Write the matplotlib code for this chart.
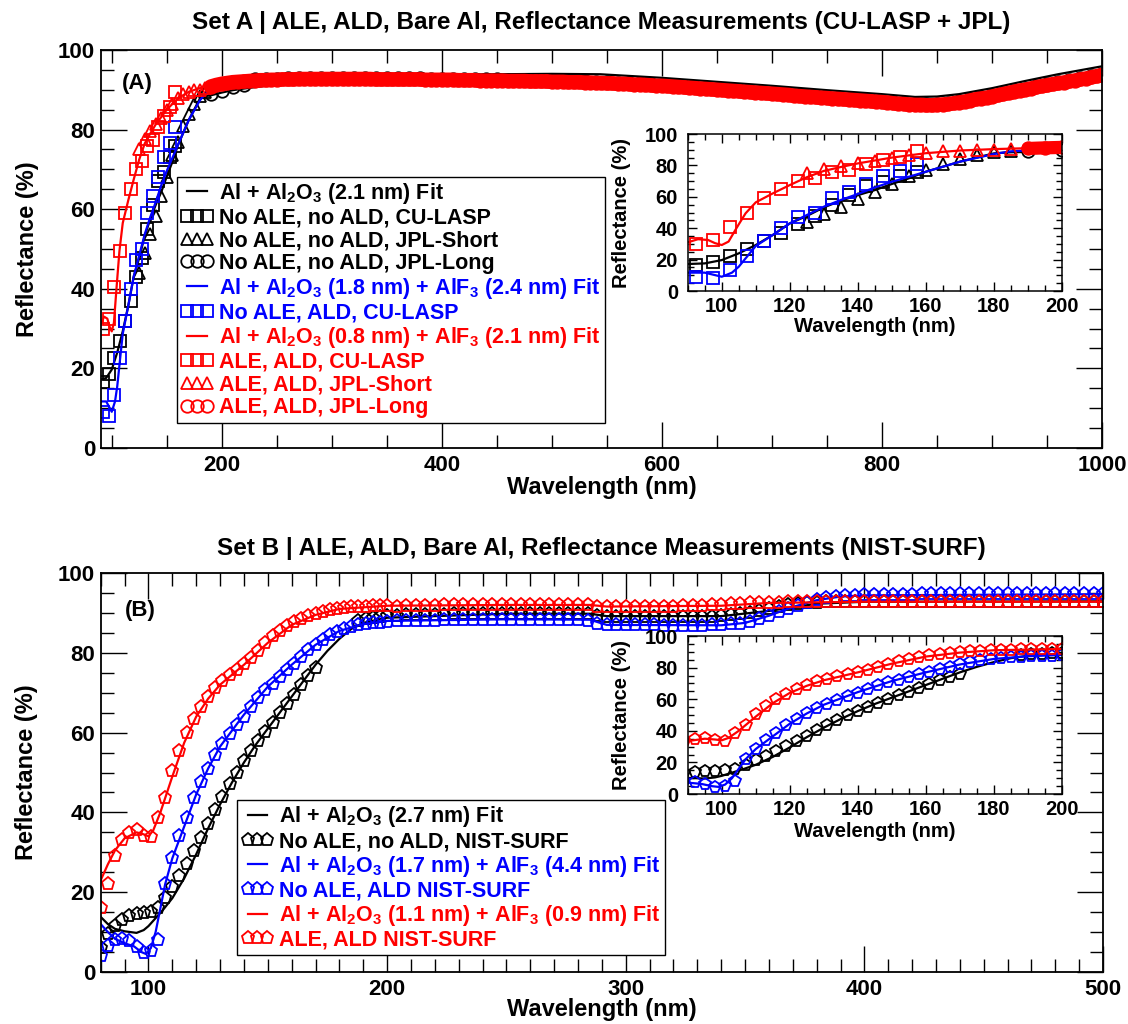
import numpy as np
import matplotlib
matplotlib.use('Agg')
import matplotlib.pyplot as plt
from matplotlib.ticker import MultipleLocator

plt.rcParams['font.family'] = ['Liberation Sans', 'DejaVu Sans']
plt.rcParams['font.weight'] = 'bold'
plt.rcParams['axes.labelweight'] = 'bold'
plt.rcParams['mathtext.fontset'] = 'custom'
plt.rcParams['mathtext.rm'] = 'Liberation Sans:bold'
plt.rcParams['mathtext.bf'] = 'Liberation Sans:bold'
plt.rcParams['mathtext.it'] = 'Liberation Sans:bold'
plt.rcParams['mathtext.sf'] = 'Liberation Sans:bold'
plt.rcParams['mathtext.default'] = 'rm'

nan = np.nan

# ---------------- Set A data ----------------
a_sq_wl = [92.5, 97.5, 102.5, 107.5, 112.5, 117.5, 122.5, 127.5, 132.5, 137.5, 142.5, 147.5, 152.5, 157.5]
a_sq_bare = [16.6, 18.7, 22.5, 27.0, 32.0, 37.0, 43.0, 47.8, 55.0, 61.0, 67.0, 69.4, 73.2, 75.8]
a_sq_ald = [9.1, 8.0, 13.4, 22.5, 31.8, 40.0, 47.3, 50.0, 59.0, 63.3, 68.0, 73.2, 76.6, 80.7]
a_sq_ale = [30.0, 32.5, 40.5, 49.5, 59.0, 65.0, 70.0, 72.0, 75.8, 77.3, 80.7, 83.4, 85.6, 89.4]

a_tri_wl = [125, 130, 135, 140, 145, 150, 155, 160, 165, 170, 175, 180, 185]
a_tri_bare = [44.0, 49.0, 53.7, 58.4, 63.3, 68.0, 73.5, 77.0, 81.0, 84.0, 86.4, 88.5, 89.4]
a_tri_ale = [75.0, 77.7, 79.6, 81.5, 83.0, 85.0, 86.5, 88.0, 89.0, 89.5, 90.0, 90.0, 90.5]

# JPL-Long, ALE+ALD (5 nm steps from 190 nm)
a_long_ale = [90.8, 91.2, 91.5, 91.7, 91.9, 92.0, 92.1, 92.2, 92.3, 92.4, 92.4, 92.5,
              92.5, 92.6, 92.6, 92.6, 92.7, 92.7, 92.7, 92.7, 92.7, 92.7,
              92.7, 92.7, 92.7, 92.7, 92.7, 92.7, 92.7, 92.7, 92.6, 92.6,
              92.6, 92.6, 92.6, 92.6, 92.6, 92.6, 92.6, 92.5, 92.5, 92.5,
              92.5, 92.5, 92.5, 92.4, 92.4, 92.4, 92.4, 92.3, 92.3, 92.3,
              92.3, 92.3, 92.2, 92.2, 92.2, 92.2, 92.1, 92.1, 92.1, 92.1,
              92.0, 92.0, 92.0, 91.9, 91.9, 91.9, 91.8, 91.8, 91.7, 91.7,
              91.6, 91.6, 91.5, 91.5, 91.4, 91.3, 91.3, 91.2, 91.1, 91.0,
              91.0, 90.9, 90.8, 90.7, 90.6, 90.5, 90.4, 90.3, 90.2, 90.1,
              90.0, 89.9, 89.8, 89.7, 89.6, 89.5, 89.4, 89.3, 89.2, 89.1,
              89.0, 88.9, 88.8, 88.7, 88.5, 88.4, 88.3, 88.2, 88.1, 88.0,
              87.9, 87.8, 87.7, 87.6, 87.5, 87.4, 87.3, 87.2, 87.1, 87.0,
              86.9, 86.8, 86.6, 86.5, 86.4, 86.3, 86.2, 86.2, 86.1, 86.1,
              86.2, 86.3, 86.4, 86.6, 86.8, 87.0, 87.3, 87.6, 87.8, 88.0,
              88.3, 88.6, 88.9, 89.2, 89.5, 89.8, 90.0, 90.3, 90.6, 90.9,
              91.1, 91.4, 91.6, 91.8, 92.1, 92.3, 92.6, 92.8, 93.1, 93.4,
              93.7]
# JPL-Long, bare (10 nm steps from 190 nm)
a_long_bare = [89.0, 89.8, 90.6, 91.3, 92.6, 92.7, 92.8, 92.9, 93.0, 93.0,
               93.0, 93.0, 93.0, 93.0, 93.0, 92.9, 92.9, 92.9, 92.9, 92.9,
               92.8, 92.8, 92.8, 92.7, 92.7, 92.6, 92.6, 92.5, 92.5, 92.4,
               92.4, 92.3, 92.3, 92.2, 92.1, 92.0, 91.9, 91.8, 91.7, 91.6,
               91.4, 91.3, 91.1, 90.9, 90.7, 90.5, 90.3, 90.1, 89.9, 89.7,
               89.5, 89.3, 89.1, 88.8, 88.6, 88.4, 88.2, 88.0, 87.8, 87.6,
               87.4, 87.2, 86.9, 86.7, 86.5, 86.4, 86.5, 86.7, 87.1, 87.6,
               88.1, 88.6, 89.2, 89.8, 90.3, 90.9, 91.4, 91.9, 92.4, 92.9,
               93.4, 94.0]
a_long_ale_wl = np.arange(190, 190 + 5 * len(a_long_ale), 5)
a_long_bare_wl = np.arange(190, 190 + 10 * len(a_long_bare), 10)

a_fit_bare_wl = [90, 95, 100, 105, 110, 115, 120, 125, 130, 135, 140, 145, 150, 155, 160, 170, 180, 185, 190, 200,
                 210, 220, 240, 260, 300, 400, 500, 544, 600, 650, 700, 750, 800, 830, 850, 870, 900, 915, 930, 960, 1000]
a_fit_bare = [17.2, 17.6, 19.7, 24.0, 29.3, 35.7, 43.1, 47.8, 53.3, 57.5, 61.1, 64.3, 68.2, 71.8, 76.0, 82.4, 87.7, 88.4, 88.6, 89.3,
              89.9, 90.3, 91.0, 91.6, 92.6, 93.8, 94.0, 93.9, 93.0, 92.0, 91.0, 89.9, 88.9, 88.2, 88.3, 88.9, 90.4, 91.3, 92.2, 93.9, 95.9]
a_fit_ald_wl = [90, 95, 100, 103, 105, 107, 110, 115, 120, 125, 130, 135, 140, 145, 150, 160, 170, 180, 185, 190, 200]
a_fit_ald = [11.7, 11.7, 9.1, 11.7, 15.5, 20.8, 28.7, 35.7, 43.1, 48.4, 53.7, 58.0, 61.8, 66.0, 69.6, 76.0, 82.4, 87.3, 89.0, 89.6, 90.2]
a_fit_ale_wl = [90, 93, 96, 98, 100, 102, 104, 105, 107, 110, 115, 120, 125, 130, 135, 140, 150, 160, 170, 180,
                190, 200, 300, 500, 700, 800, 840, 900, 1000]
a_fit_ale = [31.0, 33.0, 32.5, 30.5, 29.3, 31.5, 38.9, 42.5, 49.5, 56.5, 62.2, 67.5, 72.5, 76.5, 79.0, 81.3, 85.0, 87.8, 89.5, 90.4,
             91.0, 91.5, 92.7, 92.0, 89.0, 86.9, 86.1, 88.3, 93.7]

# ---------------- Set B data ----------------
b_wl_vuv = np.arange(80, 201, 3)
b_wl_uv = np.arange(204, 501, 4)
b_bare = [6.0, 9.5, 11.5, 13.0, 14.0, 14.6, 14.8, 15.0, 16.0, 18.5,
          21.3, 24.0, 27.0, 30.3, 33.5, 37.0, 40.5, 43.8, 47.0, 50.0,
          52.8, 55.3, 57.8, 60.2, 62.5, 64.8, 67.2, 69.5, 72.0, 74.2,
          76.2, nan, nan, nan, nan, nan, 88.0, 88.5, 88.8, 89.0, 89.2,
          89.3, 89.4, 89.5, 89.5, 89.6, 89.6, 89.7, 89.7, 89.7, 89.7,
          89.8, 89.8, 89.8, 89.8, 89.8, 89.8, 89.8, 89.8, 89.8, 89.8,
          89.7, 89.2, 89.0, 89.0, 89.0, 89.0, 89.0, 89.0, 89.0, 89.0,
          89.0, 89.0, 89.0, 89.1, 89.2, 89.4, 89.7, 90.1, 90.6, 91.1,
          91.6, 92.0, 92.3, 92.5, 92.6, 92.7, 92.7, 92.7, 92.7, 92.7,
          92.7, 92.7, 92.7, 92.7, 92.7, 92.7, 92.7, 92.7, 92.7, 92.7,
          92.7, 92.7, 92.7, 92.7, 92.7, 92.7, 92.7, 92.7, 92.7, 92.7,
          92.7, 92.7, 92.7, 92.7, 92.7]
b_ald = [4.0, 6.5, 8.0, 8.3, 7.8, 6.3, 4.7, 5.2, 8.0, 22.0,
         28.5, 34.0, 38.5, 43.5, 47.5, 51.0, 54.5, 57.2, 59.6, 61.8,
         64.0, 66.5, 68.8, 70.6, 72.3, 74.0, 75.7, 77.3, 79.0, 80.6,
         82.0, 83.3, 84.5, 85.3, 86.0, 86.5, 86.9, 87.2, 87.4, 87.6, 87.8,
         87.9, 88.0, 88.0, 88.1, 88.1, 88.2, 88.2, 88.2, 88.3, 88.3,
         88.3, 88.3, 88.3, 88.3, 88.3, 88.3, 88.3, 88.3, 88.3, 88.2,
         88.0, 87.2, 87.0, 87.0, 87.0, 86.9, 86.9, 86.9, 86.8, 86.8,
         86.8, 86.8, 86.8, 86.9, 86.9, 87.1, 87.3, 87.8, 88.5, 89.3,
         90.2, 91.0, 91.8, 92.6, 93.2, 93.7, 94.0, 94.2, 94.3, 94.4,
         94.5, 94.5, 94.6, 94.6, 94.6, 94.7, 94.7, 94.7, 94.7, 94.7,
         94.7, 94.7, 94.7, 94.7, 94.7, 94.7, 94.7, 94.7, 94.7, 94.7,
         94.7, 94.7, 94.7, 94.7, 94.7]
b_ale = [16.0, 22.0, 29.0, 33.0, 34.8, 35.5, 34.2, 33.8, 38.5, 43.5,
         50.5, 55.5, 60.0, 63.5, 66.5, 69.0, 71.3, 73.0, 74.5, 75.8,
         77.2, 78.8, 80.5, 82.5, 84.2, 85.5, 86.7, 87.7, 88.5, 89.2,
         89.8, 90.3, 90.7, 91.0, 91.2, 91.4, 91.5, 91.6, 91.7, 91.7, 91.8,
         91.6, 91.7, 91.7, 91.8, 91.8, 91.9, 91.9, 91.9, 92.0, 92.0,
         92.0, 92.0, 92.0, 92.0, 92.0, 92.0, 92.0, 92.0, 92.0, 92.0,
         92.0, 91.6, 91.5, 91.5, 91.5, 91.5, 91.5, 91.6, 91.6, 91.6,
         91.7, 91.7, 91.8, 91.9, 92.0, 92.2, 92.3, 92.4, 92.5, 92.6,
         92.6, 92.7, 92.7, 92.8, 92.8, 92.8, 92.8, 92.8, 92.8, 92.8,
         92.8, 92.8, 92.8, 92.8, 92.8, 92.8, 92.8, 92.8, 92.8, 92.8,
         92.8, 92.8, 92.8, 92.8, 92.8, 92.8, 92.8, 92.8, 92.8, 92.8,
         92.8, 92.8, 92.8, 92.8, 92.8]
b_wl = np.concatenate([b_wl_vuv, b_wl_uv])

b_fit_bare_wl = [80, 83, 86, 90, 95, 98, 100, 103, 106, 110, 115, 120, 125, 130, 135, 140, 145, 150, 155, 160,
                 165, 170, 175, 180, 185, 190, 200, 250, 285, 292, 340, 360, 380, 400, 500]
b_fit_bare = [13.8, 12.0, 10.8, 10.2, 9.8, 10.5, 11.5, 13.5, 15.5, 18.5, 23.5, 29.5, 36.0, 42.0, 47.5, 52.5, 57.0, 61.0, 65.0, 69.0,
              73.0, 77.0, 80.5, 83.5, 86.0, 87.5, 88.8, 89.8, 89.8, 89.2, 89.2, 90.5, 92.3, 92.8, 92.9]
b_fit_ald_wl = [80, 83, 86, 90, 94, 97, 99, 101, 103, 105, 107, 110, 115, 120, 125, 130, 140, 150, 160, 170,
                180, 190, 200, 250, 285, 292, 340, 350, 360, 370, 380, 390, 400, 500]
b_fit_ald = [12.0, 10.0, 8.3, 7.2, 6.4, 5.0, 4.5, 6.0, 10.0, 16.0, 22.0, 28.5, 36.5, 44.5, 51.0, 56.5, 64.5, 71.5, 77.0, 82.0,
             85.5, 87.2, 88.0, 88.4, 88.3, 87.0, 86.9, 87.5, 89.3, 91.5, 93.2, 94.1, 94.4, 94.7]
b_fit_ale_wl = [80, 83, 86, 90, 95, 98, 100, 102, 105, 110, 115, 120, 125, 130, 140, 150, 160, 170, 180, 200,
                250, 285, 292, 340, 360, 400, 500]
b_fit_ale = [23.0, 27.0, 30.5, 33.5, 35.0, 34.5, 34.0, 35.5, 40.0, 49.0, 57.5, 64.0, 68.5, 72.0, 77.0, 82.5, 87.0, 89.5, 91.0, 91.8,
             92.0, 92.0, 91.6, 91.8, 92.5, 92.8, 92.8]

legend_A = ["Al + Al$_2$O$_3$ (2.1 nm) Fit",
            "No ALE, no ALD, CU-LASP",
            "No ALE, no ALD, JPL-Short",
            "No ALE, no ALD, JPL-Long",
            "Al + Al$_2$O$_3$ (1.8 nm) + AlF$_3$ (2.4 nm) Fit",
            "No ALE, ALD, CU-LASP",
            "Al + Al$_2$O$_3$ (0.8 nm) + AlF$_3$ (2.1 nm) Fit",
            "ALE, ALD, CU-LASP",
            "ALE, ALD, JPL-Short",
            "ALE, ALD, JPL-Long"]
legend_B = ["Al + Al$_2$O$_3$ (2.7 nm) Fit",
            "No ALE, no ALD, NIST-SURF",
            "Al + Al$_2$O$_3$ (1.7 nm) + AlF$_3$ (4.4 nm) Fit",
            "No ALE, ALD NIST-SURF",
            "Al + Al$_2$O$_3$ (1.1 nm) + AlF$_3$ (0.9 nm) Fit",
            "ALE, ALD NIST-SURF"]

K, BL, RD = '#000000', '#0000ff', '#ff0000'
LW = 1.6
MEW = 1.3


def mk(ax, x, y, m, c, ms, label):
    return ax.plot(x, y, linestyle='none', marker=m, mfc='none', mec=c, color=c,
                   ms=ms, mew=MEW, label=label)[0]


def draw_A(ax, band):
    h = []
    h.append(ax.plot(a_fit_bare_wl, a_fit_bare, '-', color=K, lw=LW, label=legend_A[0])[0])
    h.append(mk(ax, a_sq_wl, a_sq_bare, 's', K, 8, legend_A[1]))
    h.append(mk(ax, a_tri_wl, a_tri_bare, '^', K, 9, legend_A[2]))
    h.append(mk(ax, a_long_bare_wl, a_long_bare, 'o', K, 9, legend_A[3]))
    h.append(ax.plot(a_fit_ald_wl, a_fit_ald, '-', color=BL, lw=LW, label=legend_A[4])[0])
    h.append(mk(ax, a_sq_wl, a_sq_ald, 's', BL, 8, legend_A[5]))
    h.append(ax.plot(a_fit_ale_wl, a_fit_ale, '-', color=RD, lw=LW, label=legend_A[6])[0])
    h.append(mk(ax, a_sq_wl, a_sq_ale, 's', RD, 8, legend_A[7]))
    h.append(mk(ax, a_tri_wl, a_tri_ale, '^', RD, 9, legend_A[8]))
    # dense JPL-Long record: overlapping open circles form a solid band
    ax.plot(a_long_ale_wl, a_long_ale, '-', color=RD, lw=band,
            solid_capstyle='round', solid_joinstyle='round')
    h.append(mk(ax, a_long_ale_wl, a_long_ale, 'o', RD, 9, legend_A[9]))
    return h


def draw_B(ax, ms):
    h = []
    h.append(ax.plot(b_fit_bare_wl, b_fit_bare, '-', color=K, lw=LW, label=legend_B[0])[0])
    h.append(mk(ax, b_wl, b_bare, 'p', K, ms, legend_B[1]))
    h.append(ax.plot(b_fit_ald_wl, b_fit_ald, '-', color=BL, lw=LW, label=legend_B[2])[0])
    h.append(mk(ax, b_wl, b_ald, 'p', BL, ms, legend_B[3]))
    h.append(ax.plot(b_fit_ale_wl, b_fit_ale, '-', color=RD, lw=LW, label=legend_B[4])[0])
    h.append(mk(ax, b_wl, b_ale, 'p', RD, ms, legend_B[5]))
    return h


def style(ax, xmaj, xmin, ymaj, ymin, big):
    ax.xaxis.set_major_locator(MultipleLocator(xmaj))
    ax.xaxis.set_minor_locator(MultipleLocator(xmin))
    ax.yaxis.set_major_locator(MultipleLocator(ymaj))
    ax.yaxis.set_minor_locator(MultipleLocator(ymin))
    if big:
        ax.tick_params(which='major', direction='in', top=True, right=True, length=18.5, width=1.0,
                       labelsize=16, pad=5)
        ax.tick_params(which='minor', direction='in', top=True, right=True, length=9.5, width=1.0)
        ax.tick_params(axis='y', which='major', pad=4)
        sw = 1.3
    else:
        ax.tick_params(which='major', direction='in', top=True, right=True, length=6.5, width=1.0,
                       labelsize=14.5, pad=4)
        ax.tick_params(which='minor', direction='in', top=True, right=True, length=4, width=1.0)
        ax.tick_params(axis='y', which='major', pad=7)
        sw = 1.1
    for s in ax.spines.values():
        s.set_linewidth(sw)


fig = plt.figure(figsize=(11.28, 10.24), dpi=100)
fig.patch.set_facecolor('white')

axA = fig.add_axes([0.0893, 0.5625, 0.8877, 0.3887])
axB = fig.add_axes([0.0893, 0.0508, 0.8886, 0.3896])
insA = fig.add_axes([0.6097, 0.7158, 0.3318, 0.1533])
insB = fig.add_axes([0.6097, 0.2246, 0.3318, 0.1543])

LEG = dict(loc='upper left', borderaxespad=0, frameon=True, fancybox=False, edgecolor='k',
           framealpha=1, fontsize=15.5, handlelength=1.5, handletextpad=0.25, labelspacing=0.08,
           borderpad=0.2, numpoints=3, labelcolor='linecolor')

# ---- Panel A ----
hA = draw_A(axA, 10.5)
axA.set_xlim(90, 1000)
axA.set_ylim(0, 100)
style(axA, 200, 50, 20, 5, True)
axA.set_xlabel('Wavelength (nm)', fontsize=17, va='center')
axA.xaxis.set_label_coords(0.5, -0.1)
axA.set_ylabel('Reflectance (%)', fontsize=17, va='center')
axA.yaxis.set_label_coords(-0.0736, 0.5)
axA.text(0.037, 0.917, '(A)', transform=axA.transAxes, fontsize=16, ha='center', va='center')
legA = axA.legend(handles=hA, bbox_to_anchor=(0.0759, 0.682), **LEG)
legA.get_frame().set_linewidth(1.0)
legA.set_zorder(10)

draw_A(insA, 9.5)
insA.set_xlim(90, 200)
insA.set_ylim(0, 100)
style(insA, 20, 5, 20, 5, False)
insA.set_xlabel('Wavelength (nm)', fontsize=14.5, va='center')
insA.xaxis.set_label_coords(0.5, -0.225)
insA.set_ylabel('Reflectance (%)', fontsize=14.5, va='center')
insA.yaxis.set_label_coords(-0.176, 0.5)

# ---- Panel B ----
hB = draw_B(axB, 9.5)
axB.set_xlim(80, 500)
axB.set_ylim(0, 100)
style(axB, 100, 10, 20, 5, True)
axB.set_xlabel('Wavelength (nm)', fontsize=17, va='center')
axB.xaxis.set_label_coords(0.5, -0.095)
axB.set_ylabel('Reflectance (%)', fontsize=17, va='center')
axB.yaxis.set_label_coords(-0.0736, 0.5)
axB.text(0.039, 0.907, '(B)', transform=axB.transAxes, fontsize=16, ha='center', va='center')
legB = axB.legend(handles=hB, bbox_to_anchor=(0.1357, 0.431), **LEG)
legB.get_frame().set_linewidth(1.0)
legB.set_zorder(10)

draw_B(insB, 8.5)
insB.set_xlim(90, 200)
insB.set_ylim(0, 100)
style(insB, 20, 5, 20, 5, False)
insB.set_xlabel('Wavelength (nm)', fontsize=14.5, va='center')
insB.xaxis.set_label_coords(0.5, -0.235)
insB.set_ylabel('Reflectance (%)', fontsize=14.5, va='center')
insB.yaxis.set_label_coords(-0.176, 0.5)

fig.text(0.533, 1 - 22 / 1024, 'Set A | ALE, ALD, Bare Al, Reflectance Measurements (CU-LASP + JPL)',
         fontsize=17.5, ha='center', va='center')
fig.text(0.533, 1 - 548 / 1024, 'Set B | ALE, ALD, Bare Al, Reflectance Measurements (NIST-SURF)',
         fontsize=17.5, ha='center', va='center')

fig.savefig('out.png', dpi=100, facecolor='white')
